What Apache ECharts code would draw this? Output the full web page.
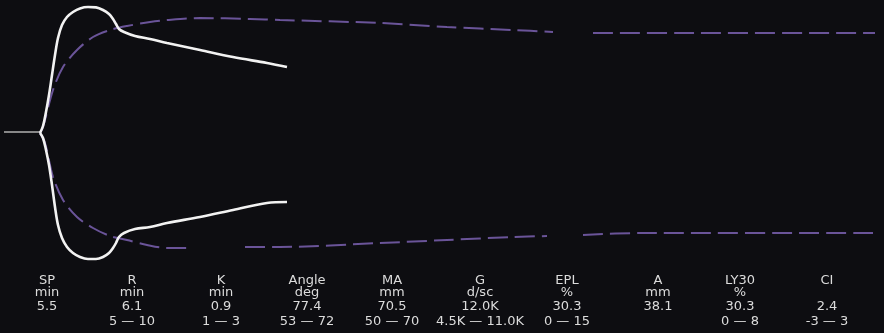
<!DOCTYPE html>
<html>
<head>
<meta charset="utf-8">
<script src="https://cdn.jsdelivr.net/npm/echarts@6/dist/echarts.min.js"></script>
<style>
html,body{margin:0;padding:0;background:#0d0d11;}
#c{width:884px;height:333px;}
</style>
</head>
<body>
<div id="c"></div>
<script>
// Time in minutes (x), amplitude in mm (y, +/-)
const baseline = [[-3.6, 0.5], [0, 0.5]];
const traceUpper = [[0,0],[0.3,3.5],[0.6,10.5],[0.9,19],[1.2,29],[1.5,39],[1.8,47.5],[2.2,54],[2.7,58],[3.3,60.5],[4.0,62.3],[4.8,63],[5.6,62.8],[6.3,61.5],[6.9,59.5],[7.3,57],[7.6,54.5],[7.9,52],[8.4,50.5],[9.5,48.5],[11,47],[12.7,45],[16,41.5],[19.3,38],[22.7,35],[24.7,33]];
const traceLower = [[0,0],[0.3,-2.5],[0.6,-8.5],[0.9,-16],[1.2,-26],[1.5,-37],[1.8,-46],[2.2,-52.5],[2.7,-57],[3.3,-60],[4.0,-62],[4.8,-63],[5.6,-63],[6.3,-62],[6.9,-60],[7.3,-57.5],[7.6,-55],[7.9,-52],[8.4,-50],[9.5,-48],[11,-47],[12.7,-45],[16,-42],[19.3,-38.5],[22.7,-35],[24.7,-34.5]];
const refUpper = [[0,0],[0.3,3],[1.3,21.5],[2.3,33],[3.7,41.5],[5.3,48],[7,51.5],[8.7,53.5],[11,55.5],[12.7,56.5],[16,57.5],[21,57],[24,56.5],[34,55],[40.7,53],[47.3,51.5],[51.3,50.5],[53,null],[55.3,50],[66,50],[83.5,50]];
const refLower = [[0,0],[0.5,-5],[1.3,-22],[2.3,-33.5],[3.7,-42],[5.3,-47.5],[7,-51.5],[8.7,-53.5],[10.7,-56],[12.7,-57.5],[15.3,-57.5],[18,null],[20.5,-57],[24,-57],[34,-55],[40.7,-53.5],[47.3,-52],[50.7,-51.5],[52.5,null],[54.3,-51],[60,-50],[83.5,-50]];

const paramNames = ['SP','R','K','Angle','MA','G','EPL','A','LY30','CI'];
const paramUnits = ['min','min','min','deg','mm','d/sc','%','mm','%',''];
const paramValues = ['5.5','6.1','0.9','77.4','70.5','12.0K','30.3','38.1','30.3','2.4'];
const paramRanges = ['','5 \u2014 10','1 \u2014 3','53 \u2014 72','50 \u2014 70','4.5K \u2014 11.0K','0 \u2014 15','','0 \u2014 8','-3 \u2014 3'];
const colCenters = [47,132,221,307,392,480,567,658,740,827];

const chart = echarts.init(document.getElementById('c'));
const textStyle = {fill:'#dcdcdc', font:'13px "DejaVu Sans"', textAlign:'center', textVerticalAlign:'middle'};
const graphics = [];
const rows = [paramNames, paramUnits, paramValues, paramRanges];
const rowY = [281, 293, 307, 322];
rows.forEach((arr, r) => {
  arr.forEach((t, i) => {
    if (!t) return;
    graphics.push({type:'text', x: colCenters[i], y: rowY[r], style: Object.assign({text: t}, textStyle)});
  });
});

const white = {type:'line', showSymbol:false, smooth:0.35, lineStyle:{color:'#f2f2f2', width:2.6}, silent:true};
const purple = {type:'line', showSymbol:false, smooth:0.3, connectNulls:false, lineStyle:{color:'#6a5499', width:2, type:[20,7]}, silent:true};

chart.setOption({
  backgroundColor:'#0d0d11',
  animation:false,
  grid:{left:0, right:0, top:0, height:266},
  xAxis:{type:'value', min:-4, max:84.4, show:false},
  yAxis:{type:'value', min:-66.5, max:66.5, show:false},
  graphic: graphics,
  series:[
    Object.assign({}, purple, {data: refUpper}),
    Object.assign({}, purple, {data: refLower}),
    {type:'line', showSymbol:false, lineStyle:{color:'#b0b0b0', width:1.5}, data: baseline, silent:true},
    Object.assign({}, white, {data: traceUpper}),
    Object.assign({}, white, {data: traceLower})
  ]
});
</script>
</body>
</html>
